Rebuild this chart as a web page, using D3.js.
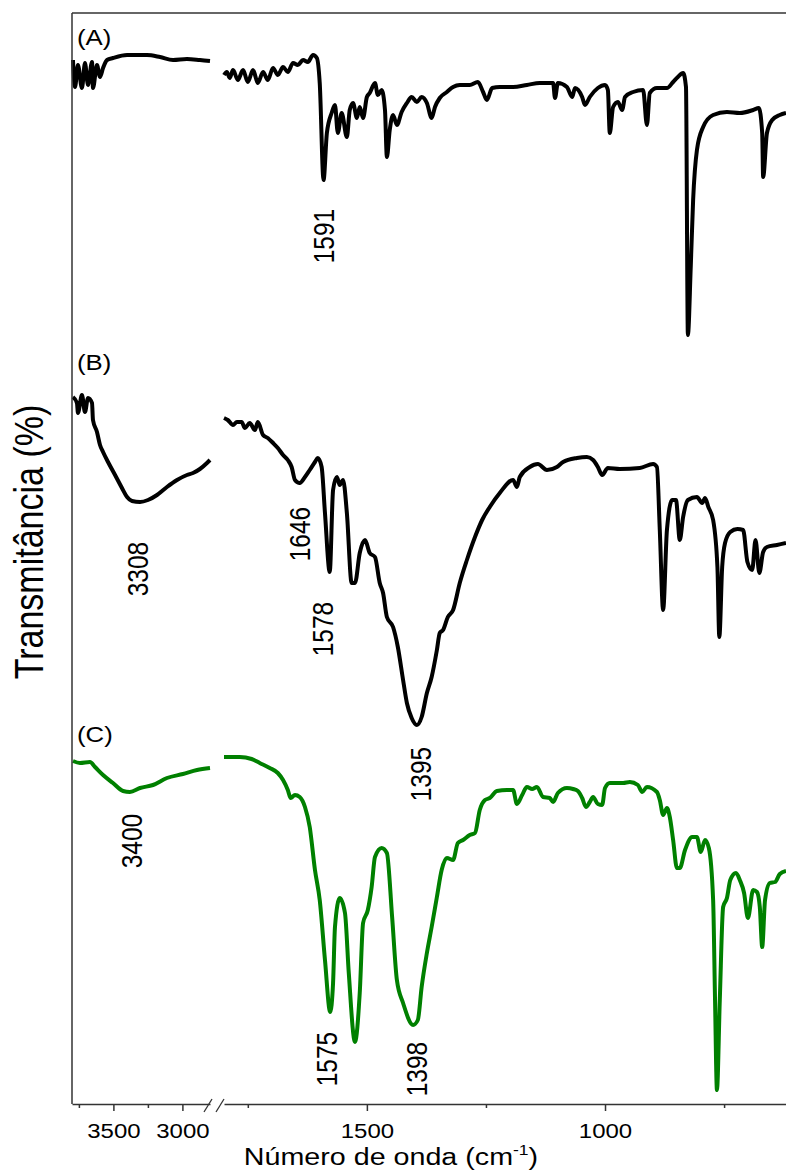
<!DOCTYPE html>
<html>
<head>
<meta charset="utf-8">
<script src="https://cdn.jsdelivr.net/npm/d3@7"></script>
<style>
  body { margin: 0; background: #fff; }
  svg text { font-family: "Liberation Sans", Arial, sans-serif; fill: #000; }
</style>
</head>
<body>
<div id="chart"></div>
<script>
var svgWidth = 786;
var svgHeight = 1174;

// spectrum (A): [wavenumber, transmittance (offset, a.u.)]
var specA_left = [[3793,104.4],[3778,101.7],[3757,103.9],[3728,101.6],[3706,104.1],[3684,101.9],[3655,104.2],[3648,101.6],[3619,103.9],[3597,102.7],[3575,103.6],[3546,104.4],[3503,104.6],[3401,104.9],[3257,104.9],[3162,104.7],[3068,104.4],[2967,104.5],[2873,104.4],[2800,104.3]];
var specA_right = [[1800,102.9],[1794,103.2],[1788,102.6],[1781,103.4],[1771,102.4],[1760,103.4],[1750,102.2],[1739,103.4],[1729,102.1],[1718,103.2],[1708,102.4],[1697,103.6],[1687,102.9],[1676,103.7],[1666,103.2],[1655,104.1],[1645,103.9],[1634,104.4],[1624,104.2],[1613,104.9],[1605,104.6],[1599,102.1],[1591,92.4],[1584,97.1],[1574,99.1],[1567,99.9],[1561,97.1],[1553,99.1],[1542,96.7],[1536,99.4],[1529,100.1],[1521,98.6],[1515,99.7],[1508,98.6],[1500,100.7],[1494,101.1],[1483,102.1],[1477,100.9],[1469,101.4],[1462,99.4],[1458,94.7],[1452,97.4],[1445,98.9],[1437,97.9],[1427,99.2],[1416,100.1],[1406,100.7],[1395,100.2],[1385,100.7],[1374,100.1],[1364,98.6],[1357,99.7],[1347,100.6],[1332,101.2],[1319,101.7],[1305,101.9],[1284,101.9],[1267,102.2],[1256,101.2],[1248,100.4],[1237,101.6],[1221,101.7],[1193,101.7],[1164,101.9],[1137,102.1],[1109,102.1],[1105,100.6],[1099,102.1],[1080,101.7],[1069,100.7],[1063,101.6],[1048,100.7],[1042,99.9],[1032,100.7],[1015,101.6],[1000,101.9],[994,101.4],[990,97.1],[983,99.7],[973,100.2],[964,99.4],[958,100.7],[941,101.2],[920,101.4],[912,97.9],[906,101.1],[891,101.6],[870,101.6],[857,102.2],[847,102.7],[836,103.1],[830,101.7],[826,76.9],[820,83.7],[815,90.4],[807,95.4],[794,97.7],[773,98.9],[744,99.2],[717,99.1],[689,99.4],[677,99.6],[670,97.1],[668,92.7],[660,97.1],[649,98.4],[633,98.9],[620,99.1]];

// spectrum (B)
var specB_left = [[3793,70.7],[3764,70.1],[3757,69.1],[3728,70.9],[3706,69.2],[3684,70.6],[3655,70.1],[3648,68.4],[3619,67.2],[3597,65.9],[3575,65.2],[3539,64.2],[3488,62.9],[3438,61.6],[3401,60.7],[3365,60.3],[3307,60.2],[3249,60.4],[3184,60.9],[3112,61.7],[3039,62.4],[2967,62.9],[2923,63.1],[2873,63.5],[2822,64.1],[2800,64.4]];
var specB_right = [[1800,68.6],[1792,68.4],[1781,67.9],[1773,68.2],[1763,68.2],[1756,67.6],[1746,68.1],[1735,67.4],[1729,68.2],[1718,66.9],[1708,66.6],[1697,66.1],[1687,65.6],[1676,64.9],[1666,64.4],[1658,63.7],[1651,62.4],[1641,62.1],[1630,62.7],[1620,63.4],[1609,64.2],[1603,64.6],[1595,63.7],[1588,59.1],[1578,53.2],[1571,61.4],[1563,62.7],[1557,61.9],[1550,62.4],[1542,59.1],[1532,52.1],[1525,52.1],[1515,55.1],[1504,56.4],[1494,55.1],[1483,54.7],[1473,52.1],[1466,51.1],[1458,48.7],[1445,47.7],[1435,45.7],[1424,42.4],[1416,40.1],[1406,38.6],[1395,37.9],[1385,38.7],[1374,41.1],[1364,42.7],[1353,45.4],[1347,47.1],[1340,47.4],[1330,48.7],[1319,49.4],[1305,52.1],[1290,54.4],[1273,56.7],[1258,58.4],[1242,59.7],[1221,61.1],[1193,62.4],[1185,61.7],[1179,62.7],[1158,63.7],[1141,64.0],[1122,63.4],[1101,63.7],[1088,64.2],[1059,64.6],[1038,64.7],[1025,64.4],[1015,63.7],[1006,62.9],[994,63.6],[969,63.5],[927,63.6],[899,64.0],[891,63.7],[885,57.4],[878,49.4],[870,57.4],[859,60.4],[851,60.4],[843,56.4],[836,58.7],[826,60.4],[807,60.7],[796,60.1],[790,60.6],[783,59.7],[773,58.4],[764,53.7],[760,46.7],[754,53.7],[748,56.1],[737,57.2],[722,57.5],[710,57.4],[701,54.2],[691,53.4],[684,56.4],[676,53.1],[668,55.2],[660,55.7],[639,55.9],[620,56.1]];

// spectrum (C)
var specC_left = [[3793,34.3],[3742,34.1],[3670,34.2],[3633,33.7],[3575,32.9],[3503,32.1],[3430,31.3],[3380,31.2],[3307,31.6],[3213,31.9],[3112,32.6],[2996,33.0],[2894,33.4],[2800,33.6]];
var specC_right = [[1800,34.7],[1767,34.7],[1742,34.5],[1725,34.1],[1704,33.6],[1687,33.1],[1676,32.4],[1666,31.4],[1660,30.6],[1651,30.9],[1641,30.7],[1630,29.7],[1620,27.7],[1609,23.4],[1599,20.4],[1588,14.4],[1577,9.2],[1571,12.1],[1567,17.7],[1557,20.6],[1546,19.1],[1538,13.1],[1525,6.2],[1515,11.1],[1508,18.1],[1498,19.4],[1490,21.7],[1483,24.7],[1469,25.6],[1458,25.1],[1447,18.7],[1437,12.4],[1424,10.1],[1403,7.9],[1393,8.4],[1385,11.7],[1374,15.1],[1364,17.7],[1353,20.7],[1343,23.4],[1332,24.6],[1319,24.4],[1309,26.1],[1298,26.4],[1284,26.9],[1273,27.1],[1263,29.4],[1252,30.4],[1242,30.6],[1227,31.3],[1206,31.4],[1193,31.4],[1185,30.0],[1174,30.9],[1164,31.7],[1153,31.5],[1143,31.7],[1130,30.7],[1116,30.6],[1109,30.2],[1099,31.1],[1080,31.6],[1067,31.5],[1057,31.3],[1048,30.6],[1040,29.7],[1032,30.2],[1025,30.7],[1015,30.0],[1006,29.9],[1000,31.6],[990,32.1],[962,32.1],[948,32.2],[931,31.9],[922,31.2],[912,31.7],[891,31.2],[885,30.4],[878,28.9],[870,29.6],[864,28.7],[857,26.4],[849,23.6],[843,23.6],[832,25.4],[817,26.7],[807,26.7],[799,25.2],[790,26.4],[782,25.6],[773,20.4],[769,10.4],[765,1.4],[759,10.4],[752,19.7],[744,20.6],[737,22.4],[725,23.1],[717,22.4],[708,21.1],[700,18.6],[689,21.4],[681,21.2],[675,19.7],[670,15.7],[664,20.4],[654,22.1],[643,22.2],[633,23.0],[620,23.3]];

// peak labels: [text, segment, wavenumber position, y position]
var peakLabels = [
  ["1591", "R", 1590, 86.8],
  ["3308", "L", 3325, 53.5],
  ["1646", "R", 1641, 57.0],
  ["1578", "R", 1592, 47.5],
  ["1395", "R", 1387, 33.0],
  ["3400", "L", 3365, 26.3],
  ["1575", "R", 1584, 4.5],
  ["1398", "R", 1395, 3.5]
];

var panelLabels = [["(A)", 105.9], ["(B)", 73.4], ["(C)", 36.2]];

var majorTicksL = [3500, 3000];
var minorTicksL = [3750, 3250];
var majorTicksR = [1500, 1000];
var minorTicksR = [1750, 1250, 750];

// the original figure is slightly stretched horizontally
var stretch = 1.17;

var svg = d3.select("#chart")
  .append("svg")
  .attr("width", svgWidth)
  .attr("height", svgHeight);

// broken x axis: two scales
var xL = d3.scaleLinear().domain([3800, 2800]).range([72, 210]);
var xR = d3.scaleLinear().domain([1800, 620]).range([224, 786]);
var y = d3.scaleLinear().domain([0, 109.1]).range([1104, 13]);

function lineFor(xs) {
  return d3.line()
    .x(d => xs(d[0]))
    .y(d => y(d[1]))
    .curve(d3.curveMonotoneX);
}

var series = [
  [specA_left, xL, "#000"], [specA_right, xR, "#000"],
  [specB_left, xL, "#000"], [specB_right, xR, "#000"],
  [specC_left, xL, "#008000"], [specC_right, xR, "#008000"]
];

series.forEach(function(s) {
  svg.append("path")
    .datum(s[0])
    .attr("fill", "none")
    .attr("stroke", s[2])
    .attr("stroke-width", 4)
    .attr("stroke-linejoin", "round")
    .attr("d", lineFor(s[1]));
});

// frame: left and top
var axisColor = "#333";
svg.append("line")
  .attr("x1", 72).attr("x2", 72).attr("y1", y.range()[1]).attr("y2", y.range()[0])
  .attr("stroke", axisColor).attr("stroke-width", 1.5);
svg.append("line")
  .attr("x1", 72).attr("x2", svgWidth).attr("y1", y.range()[1]).attr("y2", y.range()[1])
  .attr("stroke", axisColor).attr("stroke-width", 1.5);

// bottom axes
function drawAxis(xs, major, minor) {
  var g = svg.append("g").attr("transform", `translate(0, ${y.range()[0]})`);
  g.call(d3.axisBottom(xs).tickValues(major).tickSize(7).tickSizeOuter(0)
    .tickPadding(12).tickFormat(d3.format("d")));
  var gm = svg.append("g").attr("transform", `translate(0, ${y.range()[0]})`);
  gm.call(d3.axisBottom(xs).tickValues(minor).tickSize(4).tickSizeOuter(0).tickFormat(""));
  gm.select(".domain").remove();
  [g, gm].forEach(function(a) {
    a.selectAll("line").attr("stroke", axisColor).attr("stroke-width", 1.5);
    a.select(".domain").attr("stroke", axisColor).attr("stroke-width", 1.5);
  });
  g.selectAll("text")
    .attr("font-size", 20.5)
    .attr("font-family", "Liberation Sans, Arial, sans-serif")
    .attr("fill", "#000")
    .attr("transform", `scale(${stretch}, 1)`);
}
drawAxis(xL, majorTicksL, minorTicksL);
drawAxis(xR, majorTicksR, minorTicksR);

// axis break marks
var bx = xL.range()[1];
[0, 12].forEach(function(off) {
  svg.append("line")
    .attr("x1", bx - 6 + off).attr("y1", y.range()[0] + 8)
    .attr("x2", bx + 2 + off).attr("y2", y.range()[0] - 5)
    .attr("stroke", axisColor).attr("stroke-width", 1.3);
});

// panel labels
svg.selectAll(".panel")
  .data(panelLabels)
  .enter()
  .append("text")
  .attr("transform", d => `translate(77, ${y(d[1])}) scale(${stretch}, 1)`)
  .attr("font-size", 22)
  .text(d => d[0]);

// peak labels (rotated)
svg.selectAll(".peak")
  .data(peakLabels)
  .enter()
  .append("text")
  .attr("transform", d => `translate(${(d[1] === "L" ? xL : xR)(d[2])}, ${y(d[3])}) scale(${stretch}, 1) rotate(-90)`)
  .attr("text-anchor", "middle")
  .attr("dy", "0.36em")
  .attr("font-size", 24.5)
  .text(d => d[0]);

// axis titles
var xTitle = svg.append("text")
  .attr("transform", `translate(391, 1165) scale(${stretch}, 1)`)
  .attr("text-anchor", "middle")
  .attr("font-size", 24.5);
xTitle.append("tspan").text("Número de onda (cm");
xTitle.append("tspan").attr("font-size", 15).attr("dy", -10).text("-1");
xTitle.append("tspan").attr("dy", 10).text(")");

svg.append("text")
  .attr("transform", `translate(29, 542) scale(${stretch}, 1) rotate(-90)`)
  .attr("text-anchor", "middle")
  .attr("dy", "0.36em")
  .attr("font-size", 34)
  .text("Transmitância (%)");
</script>
</body>
</html>
